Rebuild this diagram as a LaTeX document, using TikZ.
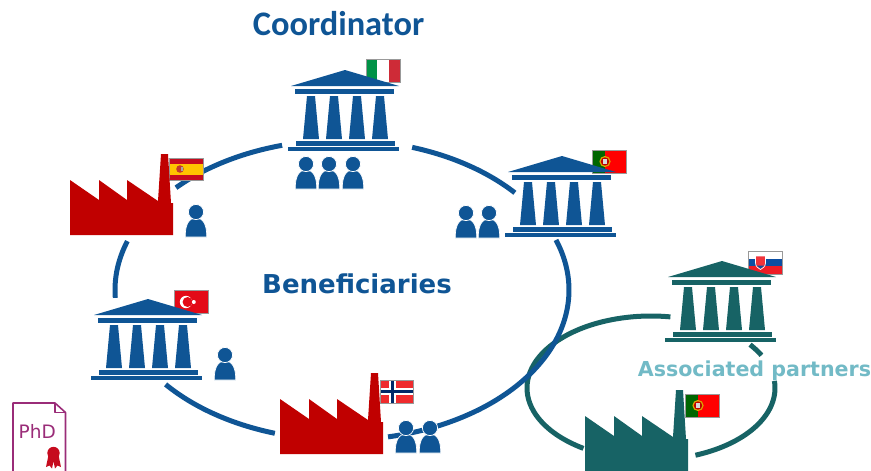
\documentclass[tikz,border=0pt]{standalone}
\usepackage{fontspec}
\setmainfont{Carlito}
\newfontfamily\dv{DejaVu Sans}
\definecolor{bluec}{HTML}{0F5595}
\definecolor{tealc}{HTML}{176365}
\definecolor{redc}{HTML}{C00000}
\definecolor{lblc}{HTML}{72BAC6}
\definecolor{phdc}{HTML}{9A2C78}
\definecolor{itg}{HTML}{009246}
\definecolor{itr}{HTML}{CE2B37}
\definecolor{esr}{HTML}{C60B1E}
\definecolor{esy}{HTML}{FFC400}
\definecolor{trr}{HTML}{E30A17}
\definecolor{nor}{HTML}{EF2B2D}
\definecolor{nob}{HTML}{002868}
\definecolor{ptg}{HTML}{006600}
\definecolor{skb}{HTML}{0B4EA2}
\definecolor{skr}{HTML}{EE1C25}
\tikzset{
  every picture/.style={x=1pt,y=-1pt},
  ringblue/.style={draw=bluec,line width=5pt},
  ringteal/.style={draw=tealc,line width=5pt},
  flagbox/.style={draw=black!40,line width=1pt},
  pics/temple/.style={code={
    \fill[#1] (0,0)--(54,16)--(-54,16)--cycle;
    \fill[#1] (-50,19) rectangle (49,24);
    \foreach \d in {-38,-15,8,31}{
      \fill[#1] (\d,26) -- (\d+8,26) -- (\d+12,69) -- (\d-4,69) -- cycle;}
    \fill[#1] (-49,71) rectangle (50,76);
    \fill[#1] (-57,77) rectangle (54,81);
  }},
  pics/person/.style={code={
    \fill[bluec,draw=white,line width=.7pt] (-10.8,25) .. controls (-10.8,12) and (-7,6) .. (0,6) .. controls (7,6) and (10.8,12) .. (10.8,25) -- cycle;
    \fill[bluec,draw=white,line width=.7pt] (0,0) circle (7.6);
  }},
  pics/factory/.style={code={
    \fill[#1] (0,0) -- (0,-55) -- (29,-35) -- (29,-55) -- (57,-35) -- (57,-55) -- (88,-34) -- (91,-81) -- (98,-81) -- (101,-32) -- (103,-32) -- (103,0) -- cycle;
  }}
}
\newcommand{\ringarc}[7]{\draw[#1] plot[domain=#6:#7,samples=50,smooth] ({#2+#4*cos(\x)},{#3+#5*sin(\x)});}
\newcommand{\flagpt}[2]{%
  \begin{scope}[shift={(#1,#2)}]
    \fill[ptg] (0,0) rectangle (13,23);
    \fill[red] (13,0) rectangle (34,23);
    \fill[esy!85!black] (13,11.5) circle (5.6);
    \fill[red!75!black] (13,11.5) circle (4.2);
    \fill[black!15] (11,9) rectangle (15,14);
    \draw[flagbox] (0,0) rectangle (34,23);
  \end{scope}}
\begin{document}
\begin{tikzpicture}
\useasboundingbox (0,0) rectangle (871,471);
\clip (0,0) rectangle (871,471);
% rings
\ringarc{ringteal}{651}{388}{124}{72}{123}{279}
\ringarc{ringteal}{651}{388}{124}{72}{-37}{-27}
\ringarc{ringteal}{651}{388}{124}{72}{-5.6}{69}
\ringarc{ringblue}{342}{290}{227}{150}{-72}{-40.4}
\ringarc{ringblue}{342}{290}{227}{150}{-19.5}{78.3}
\ringarc{ringblue}{342}{290}{227}{150}{107.2}{141}
\ringarc{ringblue}{342}{290}{227}{150}{177}{199}
\ringarc{ringblue}{342}{290}{227}{150}{223}{254.7}
% Italy flag
\begin{scope}[shift={(366,59)}]
  \fill[itg] (0,0) rectangle (11.3,23);
  \fill[white] (11.3,0) rectangle (22.6,23);
  \fill[itr] (22.6,0) rectangle (34,23);
  \draw[flagbox] (0,0) rectangle (34,23);
\end{scope}
% Spain flag
\begin{scope}[shift={(169,158)}]
  \fill[esr] (0,0) rectangle (34,22);
  \fill[esy] (0,5.5) rectangle (34,16.5);
  \fill[esr!60!brown] (11,11) circle (3.8);
  \fill[black!35] (11.6,9.2) rectangle (13.6,12.8);
  \draw[flagbox] (0,0) rectangle (34,22);
\end{scope}
\flagpt{592}{150}
\flagpt{685}{394}
% Turkey flag
\begin{scope}[shift={(174,290)}]
  \fill[trr] (0,0) rectangle (34,23);
  \fill[white] (12,12) circle (6.2);
  \fill[trr] (13.6,12) circle (5);
  \fill[white] (19.8,12) circle (2);
  \draw[flagbox] (0,0) rectangle (34,23);
\end{scope}
% Norway flag
\begin{scope}[shift={(380,380)}]
  \fill[nor] (0,0) rectangle (33,23);
  \fill[white] (8.8,0) rectangle (15.7,23);
  \fill[white] (0,8.2) rectangle (33,15);
  \fill[nob] (10.7,0) rectangle (13.8,23);
  \fill[nob] (0,10.1) rectangle (33,13.2);
  \draw[flagbox] (0,0) rectangle (33,23);
\end{scope}
% Slovakia flag
\begin{scope}[shift={(748,251)}]
  \fill[white] (0,0) rectangle (34,7.7);
  \fill[skb] (0,7.7) rectangle (34,15.4);
  \fill[skr] (0,15.4) rectangle (34,23);
  \fill[skr!90!white,draw=white,line width=.7pt] (7.5,5) -- (17.5,5) -- (17.5,12) .. controls (17.5,15.5) and (14.5,17.5) .. (12.5,18.5) .. controls (10.5,17.5) and (7.5,15.5) .. (7.5,12) -- cycle;
  \fill[skb] (8.5,14.5) -- (16.5,14.5) -- (12.5,17.6) -- cycle;
  \draw[flagbox] (0,0) rectangle (34,23);
\end{scope}
% temples
\pic at (345,70) {temple=bluec};
\pic at (562,156) {temple=bluec};
\pic at (148,299) {temple=bluec};
\pic at (722,261) {temple=tealc};
% factories
\pic at (70,235) {factory=redc};
\pic at (280,454) {factory=redc};
\pic at (585,471) {factory=tealc};
% people
\foreach \px/\py in {306/164,329/164,353/164,196/212,466/213,489/213,225/355,406/428,430/428}{
  \pic at (\px,\py) {person};
}
% PhD document
\draw[phdc,line width=1.6pt,line join=round] (13,480) -- (13,403) -- (55,403) -- (65.5,412.5) -- (65.5,480);
\draw[phdc,line width=1.1pt,line join=round] (55,403) -- (55,412.5) -- (65.5,412.5);
\node[text=phdc,font=\dv\fontsize{18.5}{18.5}\selectfont,anchor=center] (phd) at (37.3,431.5) {PhD};
\fill[esr] (48.5,455) -- (46,467) -- (49.5,465.5) -- (52,468.5) -- (53.5,461) -- (55,468.5) -- (57.5,465.5) -- (61,467) -- (58.5,455) -- cycle;
\fill[esr] (53.5,453) circle (6.2);
% labels
\node[text=bluec,font=\bfseries\fontsize{34.4}{34.4}\selectfont,anchor=center] (coord) at (338.5,24) {Coordinator};
\node[text=bluec,font=\dv\bfseries\fontsize{26}{26}\selectfont,anchor=center] (benef) at (357,284) {Beneficiaries};
\node[text=lblc,font=\dv\bfseries\fontsize{20.6}{20.6}\selectfont,anchor=center] (assoc) at (754.5,370.5) {Associated partners};
\end{tikzpicture}
\end{document}
